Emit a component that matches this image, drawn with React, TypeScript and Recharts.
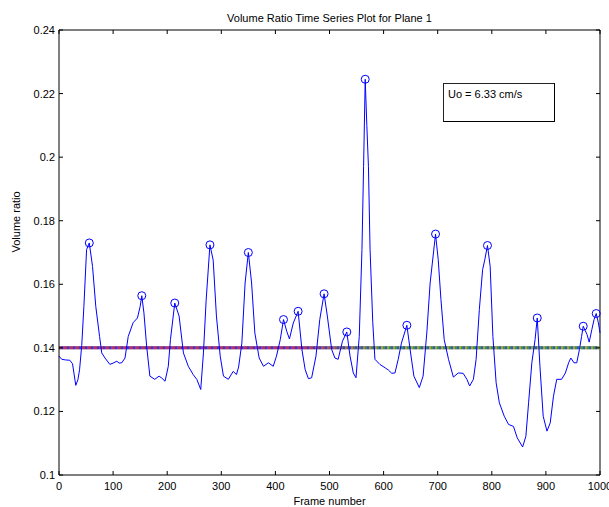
import React from 'react';
import {
  ComposedChart,
  Line,
  Scatter,
  XAxis,
  YAxis,
  ReferenceLine,
} from 'recharts';

// volume ratio trace
const frames = [
  0, 5, 12, 20, 25, 31, 35, 38, 42, 46, 51, 56, 62, 68, 75, 79, 85, 94, 100, 107,
  111, 116, 122, 128, 137, 145, 150, 153, 157, 162, 168, 177, 185, 190, 196, 202, 206, 214, 222, 230,
  239, 248, 255, 262, 267, 272, 279, 285, 291, 298, 304, 313, 318, 322, 328, 332, 338, 344, 350, 356,
  362, 370, 378, 387, 396, 402, 409, 415, 421, 426, 433, 442, 449, 455, 461, 467, 475, 482, 490, 496,
  504, 510, 516, 524, 532, 538, 544, 549, 555, 560, 563, 566, 569, 572, 575, 580, 584, 593, 603, 609,
  615, 621, 627, 633, 643, 649, 656, 666, 673, 680, 686, 696, 701, 706, 712, 720, 729, 738, 747, 754,
  759, 766, 771, 777, 783, 787, 792, 797, 802, 808, 814, 823, 831, 840, 847, 857, 863, 868, 874, 880,
  884, 889, 895, 902, 908, 914, 920, 929, 936, 942, 946, 952, 957, 962, 966, 969, 976, 980, 985, 989,
  993, 997, 1000,
];
const ratios = [
  0.1374, 0.1364, 0.1362, 0.1361, 0.135, 0.1282, 0.13, 0.1331, 0.1407, 0.153, 0.1709, 0.173, 0.1656, 0.153, 0.1436, 0.1384, 0.1368, 0.1348, 0.1352, 0.1358,
  0.1352, 0.1353, 0.1368, 0.1436, 0.1479, 0.1494, 0.153, 0.1564, 0.151, 0.1405, 0.1311, 0.1301, 0.1311, 0.1305, 0.1295, 0.1342, 0.1426, 0.1541, 0.15, 0.1384,
  0.1342, 0.1316, 0.13, 0.1269, 0.1384, 0.155, 0.1724, 0.1676, 0.15, 0.1374, 0.1311, 0.1301, 0.1315, 0.1326, 0.1316, 0.134, 0.1415, 0.1604, 0.17, 0.1604,
  0.1447, 0.1368, 0.1342, 0.1353, 0.1342, 0.1374, 0.1426, 0.1489, 0.1452, 0.1428, 0.1478, 0.1515, 0.1395, 0.1332, 0.1303, 0.1306, 0.1374, 0.1489, 0.157, 0.15,
  0.1395, 0.1368, 0.1364, 0.1421, 0.145, 0.1374, 0.1321, 0.1306, 0.1436, 0.1709, 0.197, 0.2245, 0.21, 0.197, 0.1709, 0.1479, 0.1364, 0.1348, 0.1337, 0.133,
  0.132, 0.1321, 0.1364, 0.1415, 0.1471, 0.1395, 0.1311, 0.1275, 0.1311, 0.145, 0.1604, 0.1758, 0.1677, 0.1552, 0.1426, 0.1364, 0.1308, 0.1321, 0.132, 0.1301,
  0.128, 0.1301, 0.1364, 0.1521, 0.1646, 0.1677, 0.1722, 0.1656, 0.1436, 0.129, 0.1227, 0.1185, 0.1159, 0.1153, 0.1117, 0.1088, 0.1122, 0.1227, 0.1353, 0.1426,
  0.1494, 0.1342, 0.1185, 0.1138, 0.1164, 0.1248, 0.1301, 0.1301, 0.1321, 0.1353, 0.1368, 0.1353, 0.1353, 0.1395, 0.1436, 0.1468, 0.1442, 0.1418, 0.1458, 0.1489,
  0.1508, 0.1479, 0.1447,
];

// circled local maxima
const peakFrames = [56, 153, 214, 279, 350, 415, 442, 490, 532, 566, 643, 696, 792, 884, 969, 993];
const peakRatios = [0.173, 0.1564, 0.1541, 0.1724, 0.17, 0.1489, 0.1515, 0.157, 0.145, 0.2245, 0.1471, 0.1758, 0.1722, 0.1494, 0.1468, 0.1508];

const xTicks = [0, 100, 200, 300, 400, 500, 600, 700, 800, 900, 1000];
const yTicks = [0.1, 0.12, 0.14, 0.16, 0.18, 0.2, 0.22, 0.24];
const threshold = 0.14;

// dotted threshold band: each layer fades from a left colour to a right colour
const bandLayers = [
  { id: 'bandA', from: '#d82828', to: '#3a9a3a' },
  { id: 'bandB', from: '#2a3ad8', to: '#2a5ad0' },
  { id: 'bandC', from: '#a030b0', to: '#b0a028' },
];

const W = 609;
const H = 507;
const PLOT = { left: 59, right: 600, top: 30, bottom: 475 };
const FONT = '"Liberation Sans", Arial, sans-serif';

const lineData = frames.map((f, i) => ({ frame: f, ratio: ratios[i] }));
const peakData = peakFrames.map((f, i) => ({ frame: f, ratio: peakRatios[i] }));
const thresholdData = [
  { frame: 0, thr: threshold },
  { frame: 1000, thr: threshold },
];

const XTick = (props: any) => {
  const { x, payload } = props;
  return (
    <g>
      <line x1={x} x2={x} y1={PLOT.bottom} y2={PLOT.bottom - 4} stroke="#000" />
      <line x1={x} x2={x} y1={PLOT.top} y2={PLOT.top + 4} stroke="#000" />
      <text x={x} y={PLOT.bottom + 15} textAnchor="middle" fontSize={11} fontFamily={FONT} fill="#000">
        {payload.value}
      </text>
    </g>
  );
};

const YTick = (props: any) => {
  const { y, payload } = props;
  return (
    <g>
      <line x1={PLOT.left} x2={PLOT.left + 4} y1={y} y2={y} stroke="#000" />
      <line x1={PLOT.right} x2={PLOT.right - 4} y1={y} y2={y} stroke="#000" />
      <text x={PLOT.left - 4} y={y + 4} textAnchor="end" fontSize={11} fontFamily={FONT} fill="#000">
        {String(+Number(payload.value).toFixed(2))}
      </text>
    </g>
  );
};

const PeakCircle = (props: any) => {
  const { cx, cy } = props;
  return <circle cx={cx} cy={cy} r={4} fill="none" stroke="#0000ff" strokeWidth={1} />;
};

export default function App() {
  return (
    <div style={{ position: 'absolute', left: 0, top: 0, width: W, height: H, background: '#fff', fontFamily: FONT }}>
      <div style={{ position: 'absolute', left: PLOT.left, width: PLOT.right - PLOT.left, top: 12, textAlign: 'center', fontSize: 11 }}>
        Volume Ratio Time Series Plot for Plane 1
      </div>
      <ComposedChart
        width={W}
        height={H}
        data={lineData}
        margin={{ top: PLOT.top, right: W - PLOT.right, left: 0, bottom: 0 }}
      >
        <defs>
          {bandLayers.map((b) => (
            <linearGradient key={b.id} id={b.id} gradientUnits="userSpaceOnUse" x1={PLOT.left} x2={PLOT.right} y1={0} y2={0}>
              <stop offset="0%" stopColor={b.from} />
              <stop offset="45%" stopColor={b.from} />
              <stop offset="60%" stopColor={b.to} />
              <stop offset="100%" stopColor={b.to} />
            </linearGradient>
          ))}
        </defs>
        <XAxis
          dataKey="frame"
          type="number"
          domain={[0, 1000]}
          ticks={xTicks}
          tick={<XTick />}
          tickLine={false}
          height={H - PLOT.bottom}
          stroke="#000"
          interval={0}
          label={{ value: 'Frame number', position: 'insideBottom', offset: 2, fontSize: 11, fill: '#000' }}
        />
        <YAxis
          type="number"
          domain={[0.1, 0.24]}
          ticks={yTicks}
          tick={<YTick />}
          tickLine={false}
          width={PLOT.left}
          stroke="#000"
          interval={0}
          label={{ value: 'Volume ratio', angle: -90, position: 'insideLeft', offset: 16, fontSize: 11, fill: '#000' }}
        />
        <ReferenceLine y={0.24} stroke="#000" />
        <ReferenceLine x={1000} stroke="#000" />
        <Line
          data={thresholdData}
          dataKey="thr"
          stroke="#8a8f96"
          strokeWidth={3}
          dot={false}
          type="linear"
          isAnimationActive={false}
        />
        {bandLayers.map((b, i) => (
          <Line
            key={b.id}
            data={thresholdData}
            dataKey="thr"
            stroke={`url(#${b.id})`}
            strokeWidth={3}
            strokeDasharray="2 4"
            strokeDashoffset={-i * 2}
            dot={false}
            type="linear"
            isAnimationActive={false}
          />
        ))}
        <Line
          dataKey="ratio"
          stroke="#0000ff"
          strokeWidth={1}
          dot={false}
          type="linear"
          isAnimationActive={false}
        />
        <Scatter data={peakData} dataKey="ratio" shape={<PeakCircle />} isAnimationActive={false} />
      </ComposedChart>
      <div
        style={{
          position: 'absolute',
          left: 443,
          top: 83,
          width: 112,
          height: 39,
          border: '1px solid #222',
          borderRightColor: '#000',
          borderBottomColor: '#000',
          background: '#fff',
          fontSize: 11,
          padding: '4px 0 0 4px',
          boxSizing: 'border-box',
        }}
      >
        Uo = 6.33 cm/s
      </div>
    </div>
  );
}
